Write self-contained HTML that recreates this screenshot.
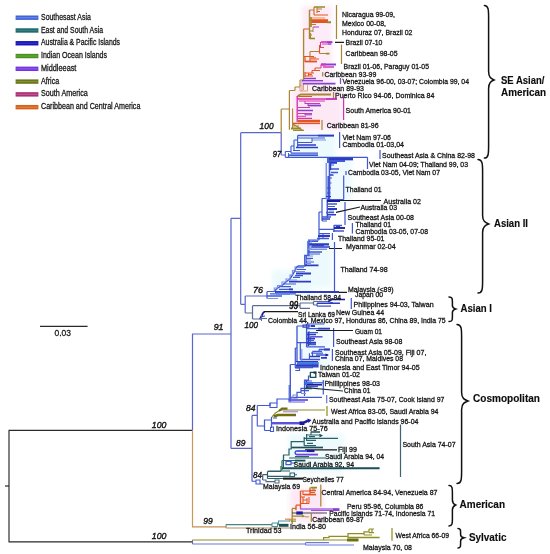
<!DOCTYPE html>
<html lang="en"><head><meta charset="utf-8"><title>Phylogenetic tree</title>
<style>
html,body{margin:0;padding:0;background:#fff;}
svg{display:block;}
text{font-family:"Liberation Sans",sans-serif;fill:#161616;stroke:#161616;stroke-width:0.28px;}
.s{font-size:6.9px;}
.l{font-size:8.3px;}
.i{font-size:9.2px;font-style:italic;stroke-width:0.4px;}
.n{font-size:9.4px;}
.k{font-size:10px;stroke-width:0.6px;}
.b{font-size:10.4px;font-weight:bold;fill:#0c0c0c;stroke-width:0.15px;}
path{fill:none;}
</style></head><body>
<svg width="550" height="554" viewBox="0 0 550 554">
<rect width="550" height="554" fill="#fff"/>
<defs><filter id="bl" x="-20%" y="-20%" width="140%" height="140%"><feGaussianBlur stdDeviation="2.5"/></filter></defs>
<g filter="url(#bl)">
<rect x="302" y="6" width="30" height="80" fill="#fdebf7"/>
<rect x="292" y="88" width="50" height="42" fill="#fde9f6"/>
<rect x="290" y="134" width="46" height="24" fill="#edfafd"/>
<rect x="324" y="158" width="28" height="44" fill="#eefafe"/>
<rect x="304" y="240" width="28" height="48" fill="#edfafd"/>
<rect x="272" y="270" width="40" height="26" fill="#edfafd"/>
<rect x="298" y="324" width="32" height="44" fill="#eefafe"/>
<rect x="288" y="434" width="56" height="40" fill="#eefafb"/>
<rect x="290" y="488" width="34" height="34" fill="#fde9f5"/>
</g>
<rect x="15.6" y="15.50" width="22.8" height="4.4" fill="#3f62d8"/>
<rect x="16.4" y="17.10" width="21.2" height="1.2" fill="#7d97ea" opacity="0.7"/>
<rect x="15.6" y="28.28" width="22.8" height="4.4" fill="#1f6a6c"/>
<rect x="16.4" y="29.88" width="21.2" height="1.2" fill="#3f8a8a" opacity="0.7"/>
<rect x="15.6" y="41.06" width="22.8" height="4.4" fill="#1a16b4"/>
<rect x="16.4" y="42.66" width="21.2" height="1.2" fill="#3b3be0" opacity="0.7"/>
<rect x="15.6" y="53.84" width="22.8" height="4.4" fill="#4a8f20"/>
<rect x="16.4" y="55.44" width="21.2" height="1.2" fill="#74b848" opacity="0.7"/>
<rect x="15.6" y="66.62" width="22.8" height="4.4" fill="#7434e2"/>
<rect x="16.4" y="68.22" width="21.2" height="1.2" fill="#9a6af0" opacity="0.7"/>
<rect x="15.6" y="79.40" width="22.8" height="4.4" fill="#6a7618"/>
<rect x="16.4" y="81.00" width="21.2" height="1.2" fill="#8e9a3a" opacity="0.7"/>
<rect x="15.6" y="92.18" width="22.8" height="4.4" fill="#a83070"/>
<rect x="16.4" y="93.78" width="21.2" height="1.2" fill="#d060a0" opacity="0.7"/>
<rect x="15.6" y="104.96" width="22.8" height="4.4" fill="#d4601c"/>
<rect x="16.4" y="106.56" width="21.2" height="1.2" fill="#f09050" opacity="0.7"/>
<path stroke="#2a2a2a" stroke-width="1.16" d="M9 430.3V541.8M8.5 430.3H192.5M8.5 541.8H192.5"/>
<path stroke="#2a2a2a" stroke-width="1.22" d="M5 486H9"/>
<path stroke="#5a66cc" stroke-width="1.22" d="M192.5 334V430.3M192 334H231M231 218.3V448.4M231 218.3H240.7M240.7 132.7V304.3M240.7 132.7H281.2M240.7 304.3H245.2M231 448.4H252M281.2 132.7V155M281.2 155H285.3M245.2 296V313M245.2 296H267M252 415.4V481.5M252 415.4H257.3M257.3 405.5V426.3"/>
<path stroke="#c79a5c" stroke-width="1.22" d="M192.5 430.3V526.8"/>
<path stroke="#c58f58" stroke-width="1.22" d="M192 526.8H226"/>
<path stroke="#2a2a2a" stroke-width="1.1" d="M40 326.4H87.6"/>
<path stroke="#5a6a9a" stroke-width="1.1" d="M192.5 540V544"/>
<path stroke="#8f8e22" stroke-width="1.1" d="M192.5 540H324"/>
<path stroke="#6a78e0" stroke-width="1.1" d="M192.5 544H305.5M305.5 542.7V545"/>
<path stroke="#8a8a70" stroke-width="1.1" d="M226 524.6V528"/>
<path stroke="#4f8088" stroke-width="1.1" d="M226 524.6H272"/>
<path stroke="#a89468" stroke-width="1.1" d="M226 528H290"/>
<path stroke="#a98632" stroke-width="1.22" d="M281.2 109V132.7M281.2 109H289.4M289.4 90.5V129.7M336.5 5V39M319.5 53.5H329M341.5 44.5V64M322.7 72V76.5M333.5 92V98M322 120V130M293 126H299M293 124L303 130.5M293 130.3H304M292.2 508.4H296M311.3 513.4V522M320.8 484.5V506.5"/>
<path stroke="#a98632" stroke-width="1.1" d="M289.4 90.5H295M295 87V90.5M295 87H300M300 80V87M300 80H303.6M292.6 108.5V128.6M309.5 10H314M317 7V13M310 24.5H316M310.5 33V39M310 51.5H319.5M310 51.5V57M290 519.2V521.5M312 489H315"/>
<path stroke="#a98632" stroke-width="1.34" d="M303.6 29V80M292.2 508.4V522.5"/>
<path stroke="#e89a58" stroke-width="0.98" d="M300 84V91M303.5 84V90M307.5 85V91M300 91H307.5"/>
<path stroke="#b79ae0" stroke-width="1.1" d="M302 80V91"/>
<path stroke="#e2551f" stroke-width="1.1" d="M303.6 29H309.5M314 7V15M319.5 45V53.5M319.5 47.5H324M310 56.5V61.5M315 68H321M315 68V70.5M312 70.5V73M299 96.5H312M303 491V494.5H309M300.5 497H305M303 497V503.5M300.5 503.5H309M307 498V503.5M309 497V503.5M303 500H307"/>
<path stroke="#a98632" stroke-width="1.46" d="M309.5 10V39"/>
<path stroke="#8f8e22" stroke-width="1.46" d="M314 7H325M348 537.6H379.6"/>
<path stroke="#a98632" stroke-width="0.98" d="M317 9H322M313 27V32M309.5 35H312"/>
<path stroke="#e2551f" stroke-width="0.98" d="M317 11.5H320M311 57.8H316M308 74.5H312M308.5 73V76"/>
<path stroke="#e2551f" stroke-width="1.22" d="M314 15H328M305 56V62M304 56.5H314M310 59H319M312 70.5H320M305 73H314M305 72V77M305 76H313M296 505.2H300.5M300.5 491H311M310 487.5V495M310 492.5H315"/>
<path stroke="#f0a060" stroke-width="1.22" d="M310 18H325"/>
<path stroke="#e2551f" stroke-width="1.95" d="M310 20.3H328M311 22H328"/>
<path stroke="#8f8e22" stroke-width="1.95" d="M327 22.2H331M326 53.6H329.5M291 128.5H301M310.5 487.6H317"/>
<path stroke="#a98632" stroke-width="1.71" d="M311 17V27"/>
<path stroke="#b060d0" stroke-width="1.22" d="M313 27H319"/>
<path stroke="#8f8e22" stroke-width="1.22" d="M309.5 31H313M272 417L275.5 413L280 410H325M327 406V416M292 516.2H303M292.2 519V524M291 521.2H296M323.6 540V537.6H329V536.4H348M323.6 540H358M348 538V533.6H364V531.8H369M369 529V532.6M369 529H374M369 532.6H374M372 529V532.6M364 535H372M364 531.8V535M392 528V540.7"/>
<path stroke="#8f8e22" stroke-width="1.59" d="M309.5 38.5H315"/>
<path stroke="#d632b4" stroke-width="1.59" d="M321 42H332"/>
<path stroke="#8a3fd0" stroke-width="1.59" d="M327 42.2H332.5M303 83.6H335.5"/>
<path stroke="#d632b4" stroke-width="1.22" d="M322 44H331M299 101H325M298 107.5H310M298 113.5H312M343.6 97V120"/>
<path stroke="#8a3fd0" stroke-width="1.22" d="M328 44H331.5M340.5 78V84"/>
<path stroke="#1a1a1a" stroke-width="1.22" d="M335 42.4H344M329 248.5H342"/>
<path stroke="#d632b4" stroke-width="1.1" d="M320.5 42V47.5M321 64.5V68M305 103.5H320M297 116.3H306"/>
<path stroke="#e2551f" stroke-width="1.83" d="M305 61.5H317"/>
<path stroke="#8a3fd0" stroke-width="1.95" d="M321 64.5H336"/>
<path stroke="#d632b4" stroke-width="1.95" d="M321 64.5H326"/>
<path stroke="#d632b4" stroke-width="1.46" d="M323 67H334"/>
<path stroke="#8a3fd0" stroke-width="1.34" d="M304 78.5H316M326 99H337M297 110.5H313"/>
<path stroke="#8a3fd0" stroke-width="1.46" d="M302 80.7H323"/>
<path stroke="#a98632" stroke-width="1.83" d="M297.2 97L299 95.3L301 94.5H331"/>
<path stroke="#d632b4" stroke-width="1.34" d="M297.2 96V122M297 99H337M298 118.3H312"/>
<path stroke="#d632b4" stroke-width="0.98" d="M305 101V104"/>
<path stroke="#8a3fd0" stroke-width="0.98" d="M308 103.5V106M305 113.5V115M311 510.4H339"/>
<path stroke="#8a3fd0" stroke-width="1.83" d="M308 105.5H321"/>
<path stroke="#8a3fd0" stroke-width="1.1" d="M305 114.8H312"/>
<path stroke="#e2551f" stroke-width="2.44" d="M298 121H320"/>
<path stroke="#e2551f" stroke-width="1.46" d="M293 123.4H320"/>
<path stroke="#4058d2" stroke-width="1.1" d="M285.3 151.5V157.3M285.3 151.5H291M291 146V153.2M291 146H294M294 140V150.5M294 140H297.6M297.6 135.5V147.5M298 142.5H312M293 150.5H300M323 233.6V238.5M270 403V407.5H277V403M295.3 348H297M309 331V338M319 349.5V351.4M312.5 351.4V356.4M309.4 353.2V359.5M295.3 368H299.5V370.5H295.3M289.2 385V402M264.5 430.5H270.5M270.5 427V431.5H273.5V427H270.5M252 481.2H256M256 480V484H260V480ZM260 484H263"/>
<path stroke="#4058d2" stroke-width="1.46" d="M297.6 135.5H334M274.3 291.5L277.5 288L282 285.5L286 282L290 279L292.5 275L295 270.5L296.5 267L298.5 265.9H304.8V255.5H308V241M308 252H322M312 245.6H324M309 241.3H318M317 238.5H329M334 225.6H342M333 231H344M327.3 200V218M295 367.4H313M306 386.6H318"/>
<path stroke="#2b3cc0" stroke-width="1.71" d="M318 135.6H334M289 281.7H311M311 247H330M330 162.8H337"/>
<path stroke="#4058d2" stroke-width="1.22" d="M298 138H325M291 153.2H318M285.3 157.3H367.5M339.6 132V148M380 150V159M367.5 157.3V169M267 291.5V298.5M267 291.5H275M270 293.8H296M306.3 255V266M281 286.6H291M284 284H296M293 277.4H300M295 275.7H303M296.5 269.5H306M306.5 262H314M306 258.3H313M310 254H320M334.5 242V291M319 212V240M308 240H319M332.4 233V240M319 229.3H334M334 225V232M352.4 223V233.6M319 212H322M322 198.5V221M322 198.5H327.3M322 221H327M327 206.5H335M345 202V225M329 165H334M329 178H332M329 183H331.5M327 188H331M326 193H330.5M346 171V175M343.7 175.5V199.5M327 199.5H343.7M317 303.2V306.2M328 301.5L333 303M351.3 298V309M257.3 405.5H270V403H277V399H290M290.3 364.5H296M295.3 348V368M297 326H314.4M306.6 324H324.4M308 340.5H314M297 342.7H316M310.2 336V345M333.6 328V347M300.3 342.7V359.5M311 353.2H323M332.4 349V361M304.5 380H308.5V376H310.4M304.5 379.6V396M290.3 398H297V392.4H301V388.3H304.5M291 397.4H322M305 381H312M301 390.6H309M323.3 380V394.5M257.3 426H264.5V420H271.5V417M264.5 420V430.5M271.5 417V428M273 418H277M286 461.3H291V464.6H286ZM291 463H296"/>
<path stroke="#7f90e4" stroke-width="1.22" d="M312 140H326M267 298.5H278M311 240V250M288 280H297M295 271.5H305M297 267.6H304M305 263.5H311M308 256H313M329 211H334M301 393.5H306"/>
<path stroke="#4058d2" stroke-width="0.98" d="M312 138V142.5M288.5 153V157.3"/>
<path stroke="#2b3cc0" stroke-width="1.46" d="M298 145H316M296 147.5H318M336 226.8H340M327 214.7H336M317 303.2H340M307 334.5H316M309.4 356.4H320M306.5 381V389"/>
<path stroke="#4058d2" stroke-width="1.71" d="M289 155.2H318"/>
<path stroke="#2b3cc0" stroke-width="2.2" d="M275 292H339M309 244.3H329"/>
<path stroke="#1a1a1a" stroke-width="1.1" d="M339 292.4H347M340 200.5H381M336 212.4L360 207M316 330.5H353M305 449.9H337"/>
<path stroke="#5f86ec" stroke-width="2.2" d="M276 293.7H290"/>
<path stroke="#4058d2" stroke-width="1.34" d="M267 296H282M309 240V256M279 289.4H292.5M319 233.6H330M322 217H331M328 204H337M326 212.5H334M330 169H339M331 172.5H338M317 306.2H331M290.3 364.5V402M297 326V361.8M306.6 324V347.3M306.6 328.6H330M309 332.7H318M308 344.6H316M306.6 346.8H325M319 349.5H329.5M312.5 351.4H322M316 355H328M300.3 359.5H320"/>
<path stroke="#7f90e4" stroke-width="1.1" d="M274.3 291.5V288H277.5M277.5 288V285.5H282M282 285.5V282H286M286 282V279H290M290 279V275H292.5M292.5 275V270.5H295M295 270.5V267H296.5M305 260H311M301.8 349V361M293 398V395H297"/>
<path stroke="#2b3cc0" stroke-width="1.59" d="M289 289.4H293M306.6 338.6H315M308.3 332V346M321 357.9H327"/>
<path stroke="#2b3cc0" stroke-width="1.83" d="M296 273.5H311M305 265.4H318.5M318 328.6H330M324 349.5H330"/>
<path stroke="#7f90e4" stroke-width="1.46" d="M308 249.3H327M326.3 163V199.5"/>
<path stroke="#2b3cc0" stroke-width="1.95" d="M318 236H330M328 209H337M311 326H315M306.6 342.7H316"/>
<path stroke="#1a1a9a" stroke-width="1.83" d="M334 228H345"/>
<path stroke="#2b3cc0" stroke-width="1.34" d="M322 219H330M328.2 176V199.5M330 175H333.5"/>
<path stroke="#1a1a9a" stroke-width="1.95" d="M327 201H340"/>
<path stroke="#4058d2" stroke-width="1.59" d="M329.5 159V199.5"/>
<path stroke="#2b3cc0" stroke-width="1.22" d="M330.6 160V170M326 196.5H331M260 319.5L262 316.5L265 316M296 361.6H318"/>
<path stroke="#4058d2" stroke-width="1.83" d="M328 157.3V163"/>
<path stroke="#2b3cc0" stroke-width="2.68" d="M329 159H353"/>
<path stroke="#4058d2" stroke-width="1.95" d="M329 161H345"/>
<path stroke="#5b6c92" stroke-width="1.22" d="M245.2 313H252.5M252.5 305.7V319M252.5 305.7H300M300 303V308.3M300 303H313.5M313.5 301.5V305M313.5 301.5H328M313.5 305H317M300 308.3H310M252.5 319H260"/>
<path stroke="#1a1a9a" stroke-width="1.46" d="M328 301.5L332 299.5H345"/>
<path stroke="#1a1a9a" stroke-width="1.71" d="M260 319L263 313L264.5 311.7"/>
<path stroke="#1a1a1a" stroke-width="1.34" d="M264 311.7H298"/>
<path stroke="#5b6c92" stroke-width="1.1" d="M260 318.5H267"/>
<path stroke="#5b6c92" stroke-width="0.98" d="M261.5 315V321"/>
<path stroke="#2b3cc0" stroke-width="1.1" d="M303 325V327.2H309V325ZM313 362V367H318V362"/>
<path stroke="#5a4ad8" stroke-width="1.46" d="M311 336.8H322.5"/>
<path stroke="#3f78e4" stroke-width="2.68" d="M297 363.4H317.5"/>
<path stroke="#2b3cc0" stroke-width="2.44" d="M296 365.6H318"/>
<path stroke="#1d4f58" stroke-width="1.34" d="M310.4 372.4H315.8V377.4H310.4Z"/>
<path stroke="#123a40" stroke-width="2.2" d="M313.5 372.6H316.3"/>
<path stroke="#3f6fe0" stroke-width="1.46" d="M305 382.8H324"/>
<path stroke="#3f6fe0" stroke-width="3.17" d="M305 383.6H313"/>
<path stroke="#1a1a9a" stroke-width="1.59" d="M307 384.8H322"/>
<path stroke="#1c3438" stroke-width="1.22" d="M306 387.7L343 391"/>
<path stroke="#1d4f58" stroke-width="1.46" d="M304.5 388.4H312M311 432H320"/>
<path stroke="#5a52d8" stroke-width="1.71" d="M288.5 400H308"/>
<path stroke="#8a84e4" stroke-width="1.34" d="M288.5 402H305"/>
<path stroke="#6a74e0" stroke-width="1.22" d="M326.7 395V403.3"/>
<path stroke="#6f6f10" stroke-width="2.2" d="M279 411L282 408.6H287.5"/>
<path stroke="#b79ae0" stroke-width="1.59" d="M283 411.6H298"/>
<path stroke="#6f6f10" stroke-width="2.44" d="M274 416.5L278 415H296"/>
<path stroke="#5a52d8" stroke-width="2.44" d="M271.5 423.2H300"/>
<path stroke="#1a1a9a" stroke-width="3.66" d="M299.5 423.2H304.5"/>
<path stroke="#1a1a9a" stroke-width="2.44" d="M304 422.6L308 420.6"/>
<path stroke="#4a5a6a" stroke-width="1.22" d="M262.7 474.6V480M262.7 474.6H267.5"/>
<path stroke="#2a626c" stroke-width="1.22" d="M267.5 471.4V478.5M267.5 471.4H281M281 466V471.4M267.5 478.5H284M267.5 476.3H290M268 471H290M282 460.5H283.5V455H289V449H291.2V441.6H304.2M284 460.5H305M289 458H325M304.2 437V445.7M304.2 445.7H316M307 443.4H313M306 440.4H316M304.2 438.4H338M306.6 434V440.4M306.6 435H320"/>
<path stroke="#1a1a1a" stroke-width="2.07" d="M283 478.6H303"/>
<path stroke="#2a626c" stroke-width="1.1" d="M290 473V476.6H294.5V473ZM294.5 474.8H297M283.5 455V468M295 456.6H309M311 432V435M309 436.6H315"/>
<path stroke="#5a6a7a" stroke-width="1.1" d="M262.7 480H266V481.6H275M275 480V483H279V480Z"/>
<path stroke="#3a8a60" stroke-width="1.46" d="M282 460.5V470"/>
<path stroke="#1d4f58" stroke-width="2.07" d="M282 468.3H379.6"/>
<path stroke="#1d4f58" stroke-width="1.83" d="M295 460.6H305.4"/>
<path stroke="#3a4ae0" stroke-width="1.34" d="M297 451C294.5 451 294.5 454.6 297 454.6"/>
<path stroke="#3a4ae0" stroke-width="1.71" d="M297 451H314"/>
<path stroke="#1a1a9a" stroke-width="2.2" d="M307 451H314.5"/>
<path stroke="#7a40e8" stroke-width="1.83" d="M296.5 454.6H318"/>
<path stroke="#1d4f58" stroke-width="1.71" d="M291.5 447.5H323"/>
<path stroke="#3f6470" stroke-width="1.22" d="M400.5 424.5V477"/>
<path stroke="#4f8f98" stroke-width="1.1" d="M272 523V526.5H277.5V523H272M277.5 524.6H278.5V521H290"/>
<path stroke="#1d4f58" stroke-width="2.93" d="M279 525.3H288.5"/>
<path stroke="#d48a48" stroke-width="1.22" d="M285 519.2H296"/>
<path stroke="#e2551f" stroke-width="1.34" d="M296 505.2V510.2M300.5 491V509M309 490.5H316"/>
<path stroke="#e2551f" stroke-width="1.71" d="M304 494.6H316"/>
<path stroke="#a868e4" stroke-width="1.34" d="M300 509H339"/>
<path stroke="#8a3fd0" stroke-width="2.44" d="M333 509.6H339.5"/>
<path stroke="#4a4458" stroke-width="1.1" d="M292 513H327"/>
<path stroke="#1a1a9a" stroke-width="3.17" d="M296.3 513H302.8"/>
<path stroke="#b8a860" stroke-width="1.22" d="M305 516.8H309"/>
<path stroke="#6f6f10" stroke-width="2.93" d="M347 540H358.5"/>
<path stroke="#6a78e0" stroke-width="1.22" d="M305.5 542.7H329M305.5 545H354"/>
<path style="fill:#1a1a9a" d="M325.5 353.4L329 355L325.5 356.6Z"/>
<path style="fill:#1a1a9a" d="M307.3 418.6L311.5 420L308.5 423Z"/>
<path style="fill:#1d4f58" d="M319.5 433.8L323 435.6L319.5 437.4Z"/>
<path style="fill:#8f8e22" d="M302.3 514.8L305.5 516.2L302.3 517.6Z"/>
<path stroke="#111" stroke-width="1.5" stroke-linecap="round" d="M484.4 5.6C488.6 5.6 488.6 10.4 488.6 17.6V71.6C488.6 77.6 491.3 78.8 494 80C491.3 81.2 488.6 82.4 488.6 88.4V146C488.6 153.2 488.6 158 484.4 158"/>
<path stroke="#111" stroke-width="1.5" stroke-linecap="round" d="M478 159.6C482.6 159.6 482.6 164.4 482.6 171.6V215.6C482.6 221.6 485.6 222.8 488.6 224C485.6 225.2 482.6 226.4 482.6 232.4V281C482.6 288.2 482.6 293 478 293"/>
<path stroke="#111" stroke-width="1.5" stroke-linecap="round" d="M449 297C452.4 297 452.4 299 452.4 302V305.5C452.4 308 454 308.5 455.6 309C454 309.5 452.4 310 452.4 312.5V316.6C452.4 319.6 452.4 321.6 449 321.6"/>
<path stroke="#111" stroke-width="1.5" stroke-linecap="round" d="M457 324.4C461.6 324.4 461.6 329.2 461.6 336.4V392.6C461.6 398.6 464.8 399.8 468 401C464.8 402.2 461.6 403.4 461.6 409.4V471.6C461.6 478.8 461.6 483.6 457 483.6"/>
<path stroke="#111" stroke-width="1.5" stroke-linecap="round" d="M449 485.6C452.4 485.6 452.4 488.4 452.4 492.6V500.1C452.4 503.6 454 504.3 455.6 505C454 505.7 452.4 506.4 452.4 509.9V519C452.4 523.2 452.4 526 449 526"/>
<path stroke="#111" stroke-width="1.5" stroke-linecap="round" d="M458 528.4C460.6 528.4 460.6 530.2 460.6 532.9V534.65C460.6 536.9 462.3 537.35 464 537.8C462.3 538.25 460.6 538.7 460.6 540.95V543.5C460.6 546.2 460.6 548 458 548"/>
<text class="s" x="342" y="16.6" textLength="53.0" lengthAdjust="spacingAndGlyphs">Nicaragua 99-09,</text>
<text class="s" x="342" y="26" textLength="44.0" lengthAdjust="spacingAndGlyphs">Mexico 00-08,</text>
<text class="s" x="342" y="35" textLength="70.4" lengthAdjust="spacingAndGlyphs">Honduraz 07, Brazil 02</text>
<text class="s" x="345.6" y="45" textLength="36.8" lengthAdjust="spacingAndGlyphs">Brazil 07-10</text>
<text class="s" x="345.6" y="56" textLength="52.0" lengthAdjust="spacingAndGlyphs">Caribbean 98-05</text>
<text class="s" x="343.6" y="68.9" textLength="85.4" lengthAdjust="spacingAndGlyphs">Brazil 01-06, Paraguy 01-05</text>
<text class="s" x="324.4" y="76.6" textLength="52.0" lengthAdjust="spacingAndGlyphs">Caribbean 93-99</text>
<text class="s" x="342.4" y="83.9" textLength="126.6" lengthAdjust="spacingAndGlyphs">Venezuela 96-00, 03-07; Colombia 99, 04</text>
<text class="s" x="312" y="91.4" textLength="52.0" lengthAdjust="spacingAndGlyphs">Caribbean 89-93</text>
<text class="s" x="335" y="98" textLength="99.4" lengthAdjust="spacingAndGlyphs">Puerto Rico 94-06, Dominica 84</text>
<text class="s" x="345.6" y="112.6" textLength="65.4" lengthAdjust="spacingAndGlyphs">South America 90-01</text>
<text class="s" x="326.7" y="127.6" textLength="51.9" lengthAdjust="spacingAndGlyphs">Caribbean 81-96</text>
<text class="s" x="342.4" y="139.5" textLength="48.6" lengthAdjust="spacingAndGlyphs">Viet Nam 97-06</text>
<text class="s" x="342.4" y="147" textLength="61.6" lengthAdjust="spacingAndGlyphs">Cambodia 01-03,04</text>
<text class="s" x="382" y="157.5" textLength="93.0" lengthAdjust="spacingAndGlyphs">Southeast Asia &amp; China 82-98</text>
<text class="s" x="369" y="167.4" textLength="99.0" lengthAdjust="spacingAndGlyphs">Viet Nam 04-09; Thailand 99, 03</text>
<text class="s" x="348" y="175.4" textLength="92.0" lengthAdjust="spacingAndGlyphs">Cambodia 03-05, Viet Nam 07</text>
<text class="s" x="345.6" y="192.3" textLength="36.0" lengthAdjust="spacingAndGlyphs">Thailand 01</text>
<text class="s" x="383.6" y="203.5" textLength="37.4" lengthAdjust="spacingAndGlyphs">Australia 02</text>
<text class="s" x="360.4" y="209.7" textLength="36.6" lengthAdjust="spacingAndGlyphs">Australia 03</text>
<text class="s" x="347.6" y="219.6" textLength="66.4" lengthAdjust="spacingAndGlyphs">Southeast Asia 00-08</text>
<text class="s" x="355.6" y="227" textLength="35.4" lengthAdjust="spacingAndGlyphs">Thailand 01</text>
<text class="s" x="355.6" y="233.6" textLength="72.4" lengthAdjust="spacingAndGlyphs">Cambodia 03-05, 07-08</text>
<text class="s" x="338" y="241" textLength="46.4" lengthAdjust="spacingAndGlyphs">Thailand 95-01</text>
<text class="s" x="346" y="249" textLength="49.6" lengthAdjust="spacingAndGlyphs">Myanmar 02-04</text>
<text class="s" x="340.4" y="272.4" textLength="47.2" lengthAdjust="spacingAndGlyphs">Thailand 74-98</text>
<text class="s" x="348" y="292.1" textLength="45.6" lengthAdjust="spacingAndGlyphs">Malaysia (&lt;89)</text>
<text class="s" x="355" y="297.4" textLength="28.0" lengthAdjust="spacingAndGlyphs">Japan 00</text>
<text class="s" x="295.6" y="299.8" textLength="45.4" lengthAdjust="spacingAndGlyphs">Thailand 58-84</text>
<text class="s" x="353.6" y="306.5" textLength="80.0" lengthAdjust="spacingAndGlyphs">Philippines 94-03, Taiwan</text>
<text class="s" x="336" y="315.2" textLength="48.0" lengthAdjust="spacingAndGlyphs">New Guinea 44</text>
<text class="s" x="298" y="317" textLength="37.0" lengthAdjust="spacingAndGlyphs">Sri Lanka 69</text>
<text class="s" x="268" y="322.5" textLength="177.6" lengthAdjust="spacingAndGlyphs">Colombia 44, Mexico 97, Honduras 86, China 89, India 75</text>
<text class="s" x="355" y="333.9" textLength="27.0" lengthAdjust="spacingAndGlyphs">Guam 01</text>
<text class="s" x="336" y="343.5" textLength="66.4" lengthAdjust="spacingAndGlyphs">Southeast Asia 98-08</text>
<text class="s" x="335" y="355" textLength="91.4" lengthAdjust="spacingAndGlyphs">Southeast Asia 05-09,  Fiji 07,</text>
<text class="s" x="335" y="361.4" textLength="68.0" lengthAdjust="spacingAndGlyphs">China 07, Maldives 08</text>
<text class="s" x="320" y="369.6" textLength="99.6" lengthAdjust="spacingAndGlyphs">Indonesia and East Timor 94-05</text>
<text class="s" x="318" y="376.7" textLength="42.0" lengthAdjust="spacingAndGlyphs">Taiwan 01-02</text>
<text class="s" x="324.4" y="385.9" textLength="55.6" lengthAdjust="spacingAndGlyphs">Phillippines 98-03</text>
<text class="s" x="344" y="393.4" textLength="26.4" lengthAdjust="spacingAndGlyphs">China 01</text>
<text class="s" x="329" y="402" textLength="115.4" lengthAdjust="spacingAndGlyphs">Southeast Asia 75-07, Cook island 97</text>
<text class="s" x="331" y="414.4" textLength="107.4" lengthAdjust="spacingAndGlyphs">West Africa 83-05, Saudi Arabia 94</text>
<text class="s" x="312" y="423.7" textLength="106.4" lengthAdjust="spacingAndGlyphs">Australia and Pacific islands 96-04</text>
<text class="s" x="276" y="430.8" textLength="51.7" lengthAdjust="spacingAndGlyphs">Indonesia 75-76</text>
<text class="s" x="338" y="451.5" textLength="19.0" lengthAdjust="spacingAndGlyphs">Fiji 99</text>
<text class="s" x="325" y="458.8" textLength="59.0" lengthAdjust="spacingAndGlyphs">Saudi Arabia 94, 04</text>
<text class="s" x="293.6" y="467" textLength="60.4" lengthAdjust="spacingAndGlyphs">Saudi Arabia 92, 94</text>
<text class="s" x="402.4" y="446.6" textLength="53.2" lengthAdjust="spacingAndGlyphs">South Asia 74-07</text>
<text class="s" x="302.4" y="482.4" textLength="41.2" lengthAdjust="spacingAndGlyphs">Seychelles 77</text>
<text class="s" x="263" y="488.9" textLength="37.0" lengthAdjust="spacingAndGlyphs">Malaysia 69</text>
<text class="s" x="321.5" y="495.2" textLength="116.0" lengthAdjust="spacingAndGlyphs">Central America 84-94, Venezuela 87</text>
<text class="s" x="347" y="508.8" textLength="76.4" lengthAdjust="spacingAndGlyphs">Peru 95-96, Columbia 86</text>
<text class="s" x="329.3" y="516" textLength="105.7" lengthAdjust="spacingAndGlyphs">Pacific islands 71-74, Indonesia 71</text>
<text class="s" x="312.2" y="522.1" textLength="51.4" lengthAdjust="spacingAndGlyphs">Caribbean 69-87</text>
<text class="s" x="290" y="528.5" textLength="36.0" lengthAdjust="spacingAndGlyphs">India 56-80</text>
<text class="s" x="246" y="533.3" textLength="35.6" lengthAdjust="spacingAndGlyphs">Trinidad 53</text>
<text class="s" x="395.4" y="537.7" textLength="53.6" lengthAdjust="spacingAndGlyphs">West Africa 66-09</text>
<text class="s" x="363" y="549.9" textLength="49.0" lengthAdjust="spacingAndGlyphs">Malaysia 70, 08</text>
<text class="i" x="259.6" y="129" textLength="14.0" lengthAdjust="spacingAndGlyphs">100</text>
<text class="i" x="272.8" y="156.9" textLength="8.5" lengthAdjust="spacingAndGlyphs">97</text>
<text class="i" x="253" y="292.6" textLength="10.0" lengthAdjust="spacingAndGlyphs">76</text>
<text class="i k" x="289.3" y="308.6" textLength="8.9" lengthAdjust="spacingAndGlyphs">99</text>
<text class="i" x="244.5" y="327.8" textLength="13.5" lengthAdjust="spacingAndGlyphs">100</text>
<text class="i" x="213.7" y="329.9" textLength="9.8" lengthAdjust="spacingAndGlyphs">91</text>
<text class="i" x="246" y="411" textLength="9.5" lengthAdjust="spacingAndGlyphs">84</text>
<text class="i" x="236" y="445.6" textLength="9.4" lengthAdjust="spacingAndGlyphs">89</text>
<text class="i" x="253" y="477.6" textLength="9.0" lengthAdjust="spacingAndGlyphs">84</text>
<text class="i" x="151.8" y="428.2" textLength="14.6" lengthAdjust="spacingAndGlyphs">100</text>
<text class="i" x="203.3" y="524.2" textLength="9.5" lengthAdjust="spacingAndGlyphs">99</text>
<text class="i" x="151.8" y="538.6" textLength="14.6" lengthAdjust="spacingAndGlyphs">100</text>
<text class="n" x="54.5" y="336.4" textLength="16.5" lengthAdjust="spacingAndGlyphs">0.03</text>
<text class="b" x="501" y="84" textLength="43.4" lengthAdjust="spacingAndGlyphs">SE Asian/</text>
<text class="b" x="501" y="95.6" textLength="45.0" lengthAdjust="spacingAndGlyphs">American</text>
<text class="b" x="494" y="227" textLength="34.0" lengthAdjust="spacingAndGlyphs">Asian II</text>
<text class="b" x="460.6" y="311.6" textLength="31.4" lengthAdjust="spacingAndGlyphs">Asian I</text>
<text class="b" x="473" y="401.6" textLength="67.0" lengthAdjust="spacingAndGlyphs">Cosmopolitan</text>
<text class="b" x="459.6" y="508.4" textLength="45.4" lengthAdjust="spacingAndGlyphs">American</text>
<text class="b" x="469" y="540.6" textLength="37.4" lengthAdjust="spacingAndGlyphs">Sylvatic</text>
<text class="l" x="41" y="19.8" textLength="49.8" lengthAdjust="spacingAndGlyphs">Southesast Asia</text>
<text class="l" x="41" y="32.58" textLength="62.0" lengthAdjust="spacingAndGlyphs">East and South Asia</text>
<text class="l" x="41" y="45.36" textLength="79.0" lengthAdjust="spacingAndGlyphs">Australia &amp; Pacific Islands</text>
<text class="l" x="41" y="58.14" textLength="66.0" lengthAdjust="spacingAndGlyphs">Indian Ocean Islands</text>
<text class="l" x="41" y="70.92" textLength="35.4" lengthAdjust="spacingAndGlyphs">Middleeast</text>
<text class="l" x="41" y="83.7" textLength="18.2" lengthAdjust="spacingAndGlyphs">Africa</text>
<text class="l" x="41" y="96.48" textLength="46.8" lengthAdjust="spacingAndGlyphs">South America</text>
<text class="l" x="41" y="109.26" textLength="99.4" lengthAdjust="spacingAndGlyphs">Caribbean and Central America</text>
</svg>
</body></html>
